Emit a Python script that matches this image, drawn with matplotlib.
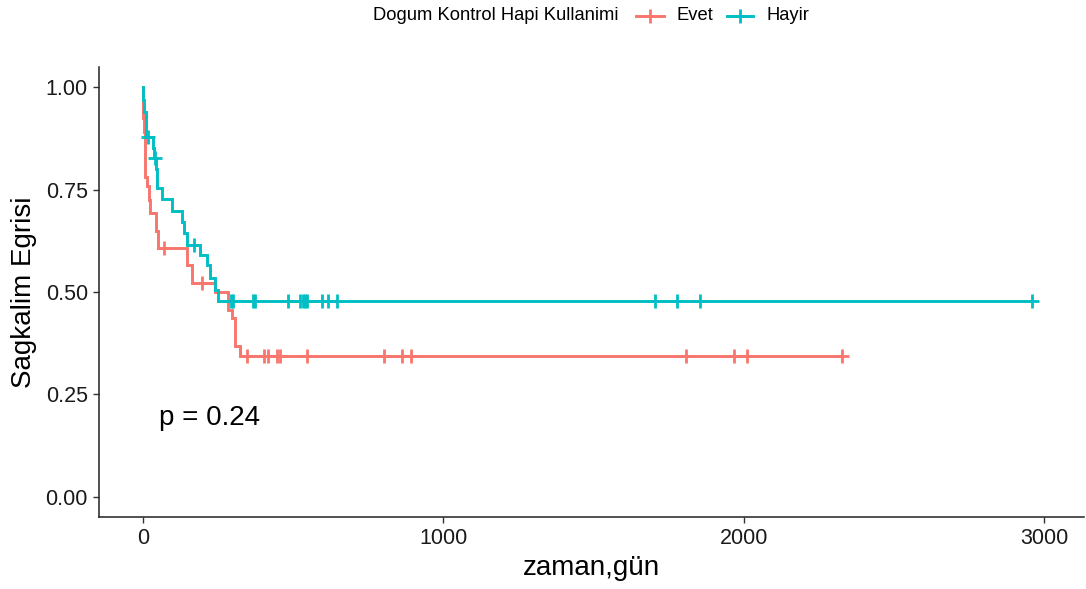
import numpy as np
import matplotlib
matplotlib.use("Agg")
import matplotlib.pyplot as plt
from matplotlib.lines import Line2D

plt.rcParams['font.family'] = ['Liberation Sans', 'DejaVu Sans']

# Kaplan-Meier step estimates per group (time in days, survival after the step)
evet_times = [0, 0.5, 1, 4, 5, 6, 7, 14, 21, 22, 43, 51, 146, 162, 240, 284, 296, 305, 306, 307, 323]
evet_surv = [1.0, 0.96, 0.925, 0.89, 0.855, 0.82, 0.78, 0.758, 0.725, 0.693, 0.648, 0.607,
             0.565, 0.522, 0.501, 0.457, 0.437, 0.41, 0.39, 0.367, 0.343]
evet_censor = [68, 196, 345, 403, 415, 445, 455, 545, 802, 861, 891, 1809, 1966, 2012, 2327]

hayir_times = [0, 1, 2, 9, 34, 37, 44, 45, 46, 62, 95, 128, 137, 145, 190, 212, 223, 240, 248]
hayir_surv = [1.0, 0.97, 0.94, 0.88, 0.852, 0.827, 0.80, 0.777, 0.754, 0.727, 0.697, 0.672,
              0.644, 0.615, 0.591, 0.567, 0.534, 0.505, 0.479]
hayir_censor = [17, 40, 168, 293, 298, 365, 372, 484, 523, 532, 540, 547, 595, 616, 645,
                1705, 1777, 1855, 2960]

groups = ["Evet", "Hayir"]
colors = ["#F8766D", "#00BFC4"]
legend_title = "Dogum Kontrol Hapi Kullanimi"
p_text = "p = 0.24"

fig = plt.figure(figsize=(10.86, 5.89), dpi=100)
ax = fig.add_axes([99 / 1086, 72 / 589, 985 / 1086, 450 / 589])


def surv_at(times, surv, t):
    idx = np.searchsorted(times, t, side="right") - 1
    return np.asarray(surv)[idx]


series = [(evet_times, evet_surv, evet_censor), (hayir_times, hayir_surv, hayir_censor)]
for (times, surv, cens), col in zip(series, colors):
    t = np.array(times + [max(cens)], dtype=float)
    s = np.array(surv + [surv[-1]], dtype=float)
    ax.step(t, s, where="post", color=col, lw=2.1, solid_joinstyle="miter")
    ct = np.array(cens, dtype=float)
    ax.plot(ct, surv_at(np.array(times, float), surv, ct), ls="none", marker="+",
            ms=10.5, mew=2.0, color=col)

ax.set_xlim(-147, 3133)
ax.set_ylim(-0.05, 1.05)
ax.set_xticks([0, 1000, 2000, 3000])
ax.set_yticks([0, 0.25, 0.5, 0.75, 1.0])
ax.set_yticklabels(["0.00", "0.25", "0.50", "0.75", "1.00"])
for side in ["top", "right"]:
    ax.spines[side].set_visible(False)
for side in ["left", "bottom"]:
    ax.spines[side].set_color("#222222")
    ax.spines[side].set_linewidth(1.1)
ax.tick_params(axis="both", direction="out", length=4, width=1.0, color="#333333",
               labelsize=15.5, labelcolor="#1a1a1a", pad=4)
ax.set_xlabel("zaman,gün", fontsize=20, labelpad=4)
ax.set_ylabel("Sagkalim Egrisi", fontsize=20, labelpad=6)

ax.text(53, 0.176, p_text, fontsize=20, ha="left", va="baseline")

# Legend strip above the panel
ty = 1 - 15.5 / 589
fig.text(373 / 1086, ty, legend_title, fontsize=13.2, ha="left", va="center")
label_x = [677, 767]
key_x = [(636, 664), (727, 753)]
for name, col, (x0, x1), lx in zip(groups, colors, key_x, label_x):
    fig.add_artist(Line2D([x0 / 1086, x1 / 1086], [ty, ty], transform=fig.transFigure,
                          color=col, lw=2.1))
    fig.add_artist(Line2D([(x0 + x1) / 2 / 1086], [ty], transform=fig.transFigure,
                          color=col, marker="+", ms=10.5, mew=2.0, ls="none"))
    fig.text(lx / 1086, ty, name, fontsize=13.2, ha="left", va="center")

fig.savefig("out.png", dpi=100)
